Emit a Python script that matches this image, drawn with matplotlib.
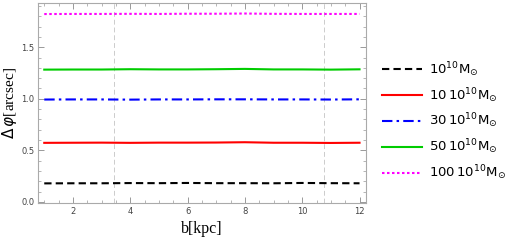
import numpy as np
import matplotlib
matplotlib.use("Agg")
import matplotlib.pyplot as plt
from matplotlib.ticker import MultipleLocator

b_kpc = [1, 2, 3, 4, 5, 6, 7, 8, 9, 10, 11, 12]
dphi_1 = [0.180, 0.181, 0.181, 0.183, 0.182, 0.184, 0.182, 0.182, 0.181, 0.184, 0.182, 0.181]
dphi_10 = [0.573, 0.574, 0.575, 0.573, 0.575, 0.575, 0.576, 0.579, 0.574, 0.574, 0.572, 0.574]
dphi_30 = [0.993, 0.994, 0.994, 0.992, 0.994, 0.994, 0.995, 0.995, 0.994, 0.994, 0.993, 0.995]
dphi_50 = [1.283, 1.284, 1.284, 1.287, 1.285, 1.285, 1.287, 1.290, 1.285, 1.285, 1.283, 1.286]
dphi_100 = [1.822, 1.823, 1.823, 1.824, 1.823, 1.825, 1.825, 1.827, 1.824, 1.823, 1.823, 1.823]
guide_x = [3.44, 10.77]

series = [
    (dphi_1, r"$10^{10}$M$_{\odot}$", "black", (0, (3.5, 2))),
    (dphi_10, r"10$\,10^{10}$M$_{\odot}$", "#ff0000", "-"),
    (dphi_30, r"30$\,10^{10}$M$_{\odot}$", "#0000ff", (0, (5, 2, 1.2, 2))),
    (dphi_50, r"50$\,10^{10}$M$_{\odot}$", "#00cc00", "-"),
    (dphi_100, r"100$\,10^{10}$M$_{\odot}$", "#ff00ff", (0, (1.2, 1.2))),
]

plt.rcParams["mathtext.fontset"] = "dejavusans"
fig = plt.figure(figsize=(5.06, 2.42), dpi=100)
ax = fig.add_axes([0.075, 0.16, 0.648, 0.828])

for xv in guide_x:
    ax.axvline(xv, color="#cccccc", lw=0.7, ls=(0, (5, 3)), zorder=0)

for y, lab, col, ls in series:
    ax.plot(b_kpc, y, color=col, ls=ls, lw=1.5, label=lab)

ax.set_xlim(0.78, 12.22)
ax.set_ylim(-0.013, 1.93)
ax.xaxis.set_major_locator(MultipleLocator(2))
ax.xaxis.set_minor_locator(MultipleLocator(0.5))
ax.yaxis.set_major_locator(MultipleLocator(0.5))
ax.yaxis.set_minor_locator(MultipleLocator(0.1))
ax.tick_params(which="both", direction="in", top=True, right=True,
               color="#999999", labelsize=6, labelcolor="#444444", pad=2.5)
ax.tick_params(which="major", length=4, width=0.7)
ax.tick_params(which="minor", length=2, width=0.5)
ax.yaxis.set_major_formatter(plt.FuncFormatter(lambda v, p: f"{v:.1f}"))
for s in ax.spines.values():
    s.set_color("#aaaaaa")
    s.set_linewidth(0.8)

ax.set_xlabel("b[kpc]", family="Liberation Serif", fontsize=11.5, labelpad=4)
ax.set_ylabel(r"$\Delta\,\varphi$[arcsec]", family="Liberation Serif", fontsize=11, labelpad=2)

leg = ax.legend(loc="center left", bbox_to_anchor=(1.033, 0.41), frameon=False,
                borderaxespad=0, fontsize=9.5, handlelength=3.0,
                handletextpad=0.55, labelspacing=0.55)

fig.savefig("out.png", dpi=100)
